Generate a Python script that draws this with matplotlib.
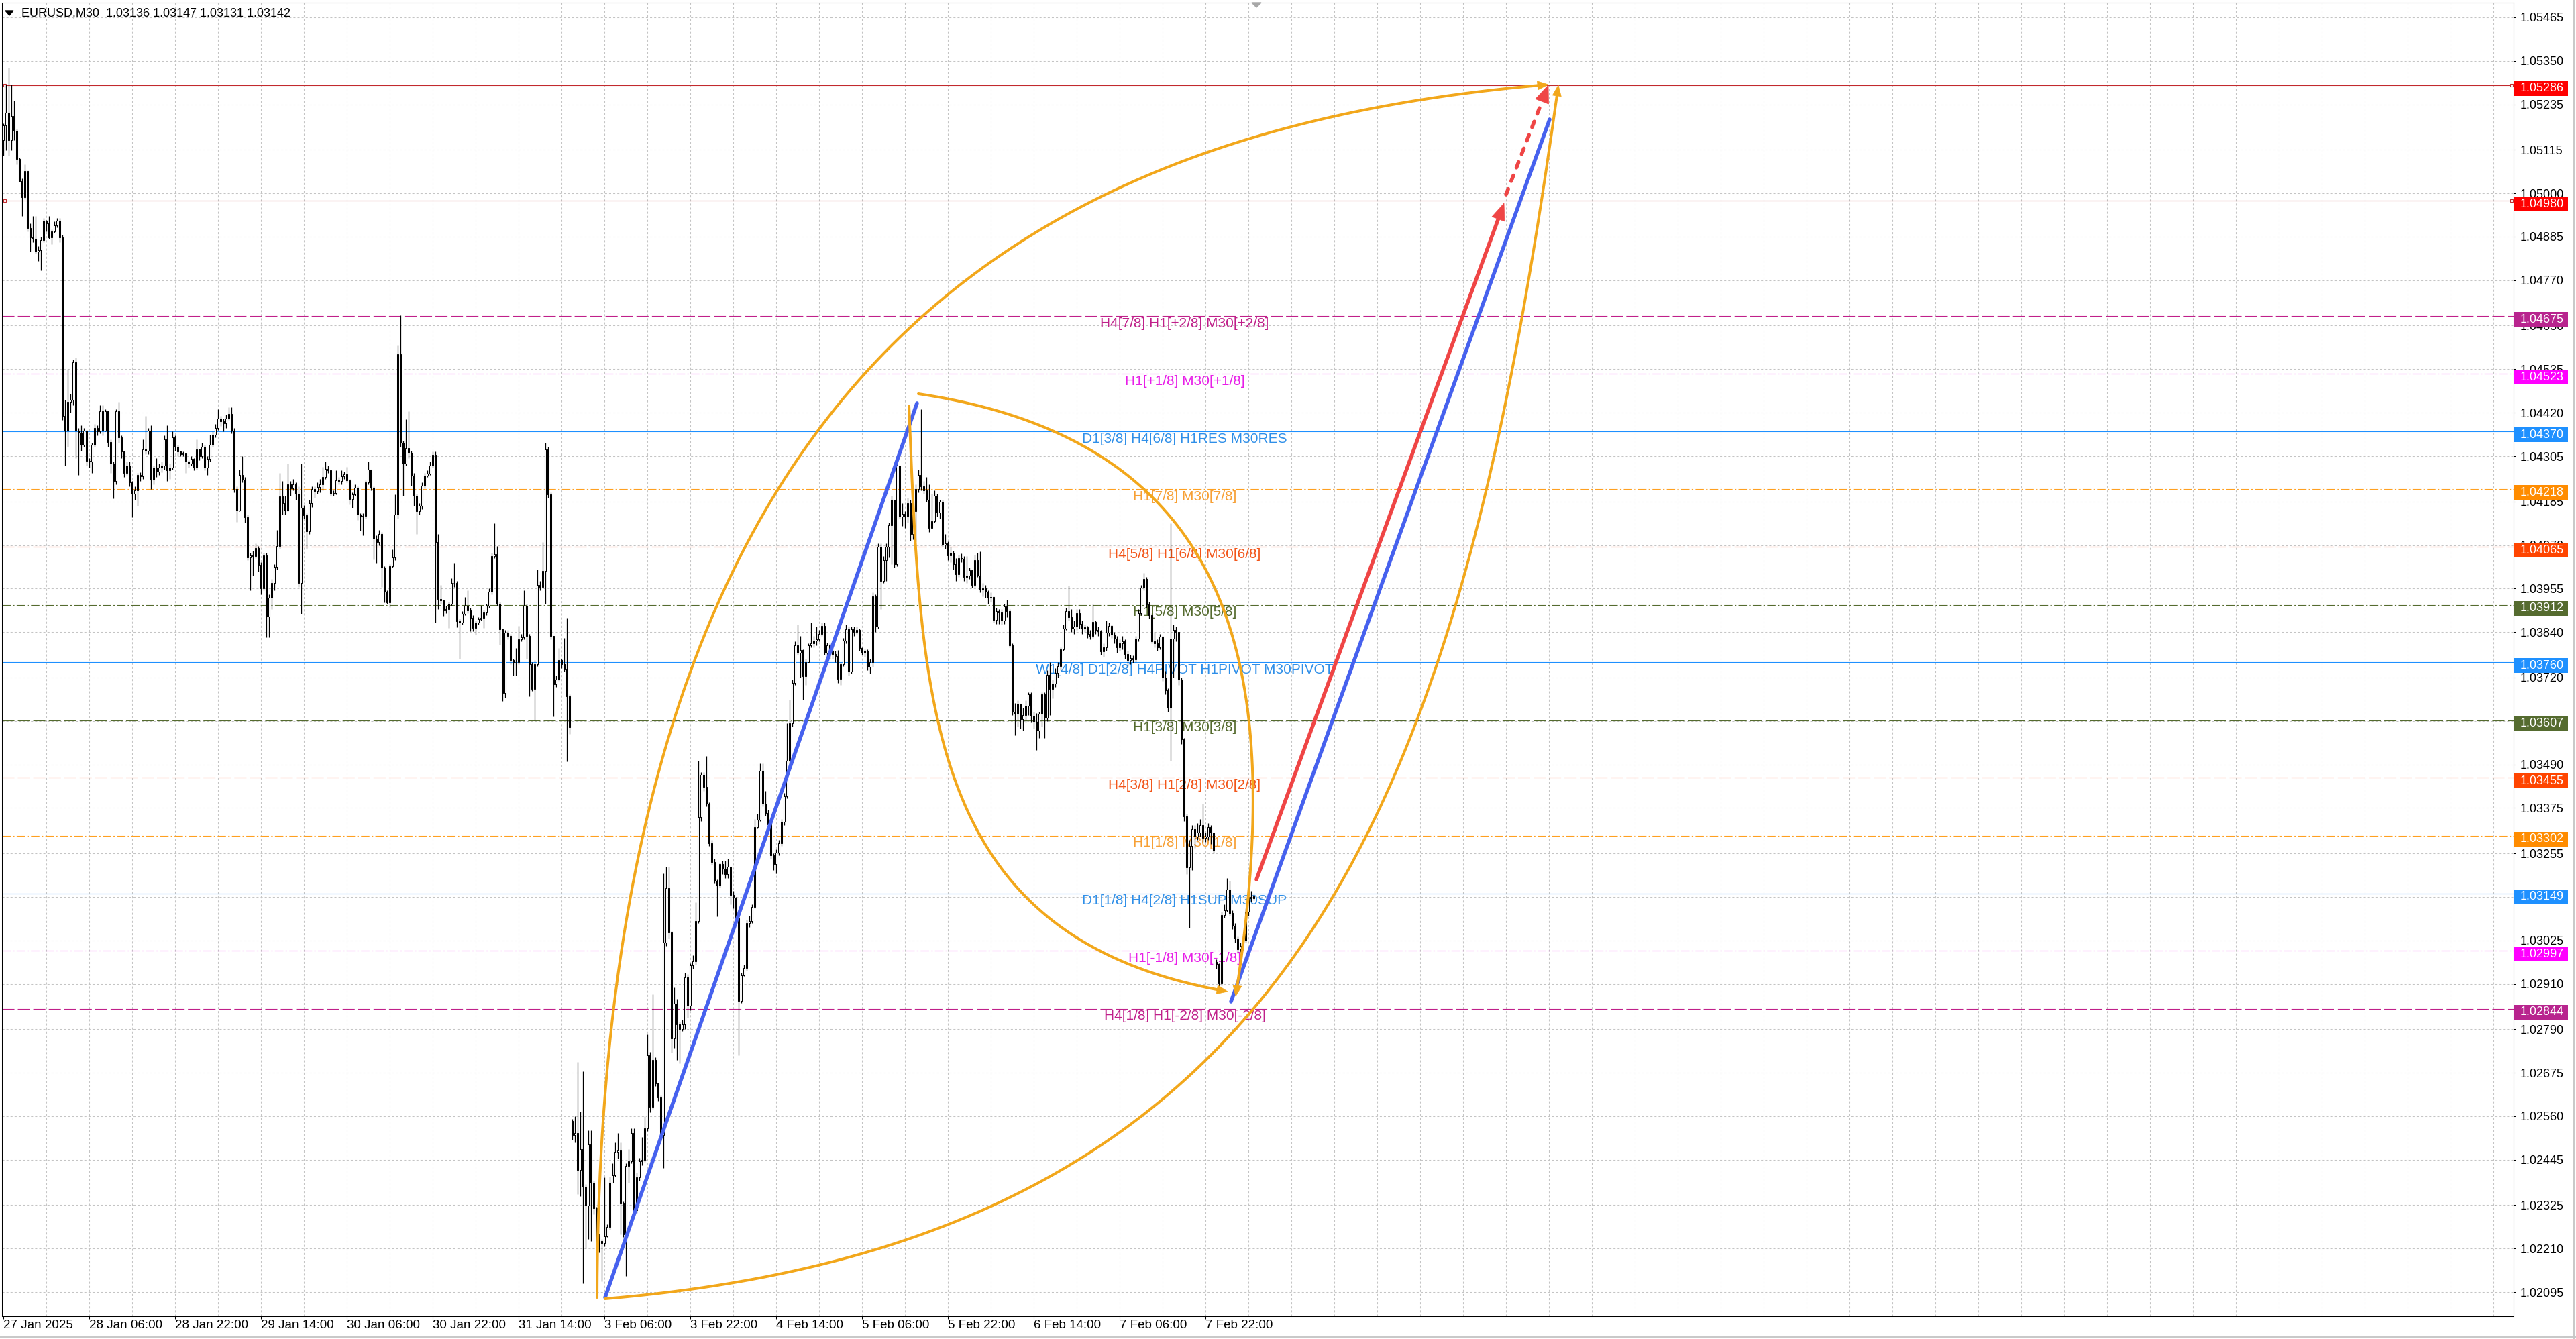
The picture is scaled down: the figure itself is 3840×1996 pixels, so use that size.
import numpy as np
import matplotlib
matplotlib.use('Agg')
import matplotlib.pyplot as plt
import matplotlib.transforms as mtransforms
from matplotlib.patches import Polygon, Rectangle
from matplotlib.lines import Line2D

plt.rcParams['font.family'] = ['Liberation Sans', 'DejaVu Sans']
plt.rcParams['lines.scale_dashes'] = False

# EURUSD M30 candles, prices in points (1e-5) above 1.00000
close_pts = [
    5180, 5213, 5140, 5205, 5165, 5090, 5033, 4990, 5058, 4908,
    4884, 4880, 4846, 4850, 4877, 4927, 4920, 4884, 4900, 4915,
    4927, 4884, 4411, 4373, 4448, 4454, 4554, 4373, 4367, 4336,
    4373, 4292, 4290, 4336, 4380, 4370, 4423, 4373, 4423, 4342,
    4286, 4240, 4423, 4355, 4317, 4261, 4280, 4236, 4205, 4215,
    4255, 4252, 4323, 4320, 4373, 4243, 4274, 4265, 4274, 4280,
    4349, 4267, 4274, 4355, 4330, 4317, 4311, 4312, 4290, 4286,
    4298, 4274, 4323, 4305, 4330, 4274, 4298, 4336, 4361, 4380,
    4405, 4398, 4392, 4405, 4417, 4373, 4218, 4162, 4255, 4243,
    4143, 4037, 4043, 4040, 4062, 4018, 3956, 4043, 3882, 3931,
    3969, 4012, 4068, 4199, 4180, 4162, 4230, 4220, 4230, 4205,
    3969, 4168, 4149, 4106, 4180, 4218, 4212, 4224, 4230, 4250,
    4272, 4268, 4206, 4208, 4242, 4240, 4251, 4257, 4241, 4191,
    4204, 4222, 4150, 4145, 4148, 4236, 4269, 4222, 4087, 4078,
    4100, 4010, 3946, 3919, 4014, 4037, 4150, 4575, 4340, 4286,
    4326, 4313, 4254, 4200, 4159, 4173, 4227, 4254, 4259, 4281,
    4308, 4078, 3928, 3924, 3897, 3901, 3915, 3969, 3970, 3869,
    3865, 3888, 3910, 3897, 3878, 3851, 3865, 3874, 3878, 3892,
    3910, 3946, 4041, 4046, 3915, 3847, 3679, 3838, 3830, 3765,
    3761, 3760, 3820, 3826, 3910, 3829, 3756, 3689, 3756, 3964,
    3960, 4001, 4322, 4204, 3829, 3702, 3715, 3765, 3756, 3743,
    3670, 3589, 2510, 2516, 2417, 2473, 2373, 2323, 2485, 2385,
    2317, 2242, 2230, 2225, 2242, 2267, 2385, 2404, 2466, 2470,
    2329, 2248, 2429, 2441, 2516, 2311, 2398, 2441, 2445, 2528,
    2721, 2584, 2709, 2647, 2609, 2510, 3020, 3163, 3045, 2765,
    2858, 2802, 2790, 2802, 2927, 2852, 2958, 2970, 3076, 3350,
    3462, 3431, 3387, 3282, 3232, 3182, 3170, 3226, 3215, 3200,
    3220, 3145, 3138, 3083, 2865, 2933, 2952, 3070, 3076, 3114,
    3325, 3344, 3474, 3387, 3362, 3331, 3250, 3226, 3257, 3282,
    3338, 3406, 3499, 3599, 3705, 3804, 3786, 3792, 3723, 3760,
    3804, 3811, 3817, 3820, 3835, 3857, 3786, 3804, 3790, 3782,
    3777, 3717, 3755, 3817, 3848, 3736, 3848, 3840, 3845, 3798,
    3786, 3790, 3748, 3760, 3935, 3855, 4065, 3975, 4030, 4065,
    4122, 4190, 4020, 4280, 4145, 4152, 4145, 4180, 4100, 4160,
    4218, 4255, 4225, 4215, 4190, 4116, 4133, 4200, 4156, 4184,
    4071, 4075, 4043, 4050, 4020, 3992, 4035, 4033, 3986, 3990,
    4003, 3965, 4030, 3990, 3952, 3955, 3947, 3930, 3932, 3873,
    3896, 3892, 3870, 3907, 3896, 3805, 3630, 3624, 3650, 3610,
    3620, 3645, 3675, 3619, 3602, 3580, 3624, 3675, 3613, 3726,
    3690, 3703, 3732, 3749, 3794, 3850, 3896, 3880, 3850, 3855,
    3890, 3862, 3850, 3853, 3835, 3830, 3867, 3845, 3842, 3788,
    3800, 3839, 3856, 3833, 3822, 3799, 3811, 3815, 3782, 3765,
    3771, 3768, 3822, 3890, 3958, 3980, 3913, 3884, 3816, 3811,
    3800, 3828, 3720, 3686, 3640, 3822, 3845, 3840, 3715, 3556,
    3353, 3217, 3274, 3319, 3300, 3310, 3330, 3296, 3300, 3324,
    3310, 3262, 2962, 2911, 3092, 3104, 3160, 3098, 3064, 3030,
    3002, 3010, 3025, 3100, 3140, 3136, 3142,
]
high_pts = [
    5185, 5288, 5332, 5288, 5245, 5170, 5095, 5040, 5076, 5060,
    4920, 4940, 4940, 4860, 4885, 4935, 4930, 4940, 4905, 4925,
    4935, 4935, 4890, 4454, 4535, 4470, 4560, 4566, 4380, 4386,
    4380, 4375, 4300, 4340, 4390, 4386, 4440, 4440, 4430, 4425,
    4350, 4290, 4430, 4448, 4360, 4320, 4290, 4290, 4240, 4225,
    4260, 4262, 4349, 4411, 4380, 4386, 4280, 4300, 4285, 4290,
    4360, 4386, 4285, 4370, 4360, 4335, 4320, 4318, 4295, 4295,
    4305, 4300, 4349, 4325, 4340, 4335, 4305, 4361, 4370, 4390,
    4430, 4412, 4405, 4415, 4435, 4435, 4380, 4225, 4270, 4305,
    4250, 4150, 4050, 4055, 4075, 4068, 4025, 4050, 4050, 3940,
    3980, 4020, 4110, 4261, 4240, 4200, 4286, 4240, 4245, 4235,
    4225, 4286, 4175, 4155, 4190, 4225, 4225, 4235, 4245, 4277,
    4290, 4280, 4270, 4215, 4268, 4250, 4268, 4265, 4277, 4245,
    4210, 4230, 4225, 4155, 4155, 4241, 4290, 4270, 4225, 4095,
    4110, 4105, 4015, 3950, 4020, 4059, 4204, 4598, 4678, 4345,
    4403, 4423, 4320, 4260, 4205, 4180, 4235, 4260, 4268, 4290,
    4318, 4318, 4100, 3964, 3920, 3910, 3920, 3983, 4023, 3975,
    3875, 3895, 3933, 3951, 3905, 3885, 3870, 3880, 3910, 3898,
    3915, 3955, 4050, 4127, 4068, 3920, 3850, 3845, 3845, 3835,
    3770, 3797, 3856, 3835, 3951, 3915, 3835, 3760, 3765, 4005,
    3975, 4078, 4340, 4330, 4210, 3825, 3725, 3797, 3770, 3824,
    3878, 3675, 2553, 2560, 2703, 2572, 2678, 2380, 2522, 2522,
    2390, 2320, 2250, 2235, 2398, 2275, 2400, 2435, 2491, 2516,
    2491, 2335, 2435, 2473, 2528, 2528, 2410, 2450, 2504, 2560,
    2777, 2730, 2883, 2715, 2645, 2615, 3201, 3219, 3219, 3050,
    2900, 2870, 2810, 2815, 2940, 2935, 2965, 2985, 3126, 3499,
    3470, 3470, 3512, 3390, 3290, 3240, 3185, 3230, 3235, 3235,
    3240, 3200, 3155, 3140, 3070, 2940, 2960, 3080, 3090, 3120,
    3345, 3360, 3493, 3493, 3420, 3370, 3320, 3255, 3265, 3290,
    3345, 3415, 3599, 3661, 3715, 3815, 3860, 3830, 3795, 3770,
    3810, 3866, 3830, 3854, 3845, 3866, 3866, 3812, 3810, 3795,
    3790, 3792, 3760, 3825, 3860, 3855, 3855, 3855, 3855, 3850,
    3800, 3795, 3795, 3770, 3945, 3940, 4075, 4075, 4040, 4075,
    4130, 4200, 4190, 4290, 4260, 4180, 4160, 4195, 4190, 4175,
    4230, 4270, 4430, 4240, 4250, 4230, 4205, 4215, 4205, 4190,
    4190, 4100, 4080, 4065, 4055, 4035, 4045, 4048, 4040, 4040,
    4010, 4000, 4045, 4050, 4054, 3970, 3965, 3950, 3945, 3935,
    3905, 3900, 3900, 3915, 3925, 3900, 3810, 3652, 3660, 3650,
    3640, 3660, 3680, 3680, 3630, 3625, 3630, 3680, 3680, 3740,
    3760, 3715, 3745, 3760, 3800, 3860, 3905, 3963, 3900, 3870,
    3900, 3900, 3870, 3860, 3856, 3845, 3913, 3870, 3855, 3845,
    3810, 3870, 3865, 3860, 3840, 3830, 3820, 3830, 3820, 3790,
    3780, 3778, 3830, 3900, 3965, 3997, 3985, 3920, 3890, 3840,
    3820, 3835, 3830, 3737, 3692, 4127, 3860, 3855, 3840, 3720,
    3560, 3360, 3290, 3330, 3330, 3335, 3345, 3387, 3310, 3335,
    3330, 3300, 2975, 2965, 3100, 3120, 3189, 3183, 3105, 3070,
    3035, 3020, 3035, 3110, 3150, 3155, 3147,
]
low_pts = [
    5100, 5114, 5100, 5114, 5140, 5076, 5030, 4940, 4985, 4900,
    4846, 4870, 4840, 4821, 4796, 4870, 4900, 4880, 4865, 4895,
    4910, 4870, 4400, 4280, 4330, 4420, 4440, 4300, 4255, 4320,
    4330, 4280, 4275, 4261, 4330, 4360, 4365, 4360, 4370, 4330,
    4260, 4193, 4230, 4340, 4300, 4250, 4255, 4225, 4143, 4190,
    4174, 4240, 4245, 4310, 4310, 4218, 4230, 4250, 4255, 4262,
    4270, 4240, 4245, 4270, 4320, 4305, 4305, 4305, 4261, 4275,
    4280, 4268, 4270, 4295, 4300, 4268, 4255, 4290, 4330, 4355,
    4375, 4385, 4370, 4380, 4400, 4365, 4210, 4131, 4160, 4235,
    4130, 4030, 3950, 3990, 4035, 4000, 3940, 3950, 3826, 3826,
    3900, 3950, 4005, 4060, 4150, 4150, 4160, 4200, 4215, 4190,
    3960, 3888, 4140, 4060, 4100, 4170, 4195, 4205, 4210, 4215,
    4245, 4260, 4200, 4200, 4204, 4230, 4231, 4245, 4235, 4177,
    4168, 4200, 4136, 4109, 4096, 4140, 4230, 4215, 4032, 4023,
    4070, 3960, 3919, 3915, 3906, 4010, 4030, 4140, 4330, 4200,
    4280, 4300, 4227, 4173, 4100, 4150, 4165, 4220, 4250, 4255,
    4275, 3865, 3901, 3915, 3883, 3890, 3851, 3910, 3960, 3853,
    3770, 3860, 3885, 3890, 3842, 3842, 3833, 3860, 3870, 3851,
    3885, 3905, 3940, 4035, 3910, 3806, 3657, 3666, 3820, 3756,
    3725, 3725, 3755, 3815, 3820, 3770, 3670, 3684, 3607, 3750,
    3950, 3955, 3915, 4195, 3820, 3616, 3695, 3710, 3745, 3735,
    3498, 3571, 2497, 2490, 2354, 2348, 2118, 2211, 2236, 2230,
    2300, 2211, 2200, 2124, 2215, 2240, 2260, 2385, 2400, 2448,
    2248, 2240, 2137, 2385, 2435, 2300, 2305, 2390, 2430, 2440,
    2520, 2570, 2580, 2640, 2600, 2495, 2423, 3010, 3030, 2728,
    2740, 2709, 2700, 2785, 2790, 2821, 2840, 2950, 2960, 3070,
    3340, 3420, 3380, 3275, 3225, 3175, 3089, 3165, 3200, 3190,
    3190, 3120, 3110, 3075, 2721, 2860, 2930, 2945, 3060, 3070,
    3110, 3320, 3340, 3380, 3355, 3320, 3240, 3210, 3201, 3250,
    3275, 3330, 3400, 3490, 3590, 3700, 3780, 3720, 3661, 3700,
    3760, 3800, 3800, 3805, 3815, 3830, 3780, 3780, 3770, 3770,
    3760, 3705, 3700, 3750, 3810, 3725, 3730, 3830, 3835, 3790,
    3780, 3775, 3740, 3730, 3748, 3840, 3850, 3901, 3970, 3975,
    4037, 4020, 4010, 4015, 4140, 4120, 4116, 4130, 4082, 4085,
    4080, 4210, 4215, 4205, 4185, 4105, 4120, 4130, 4145, 4140,
    4065, 4060, 4030, 4025, 4005, 3975, 3985, 4025, 3975, 3970,
    3980, 3958, 3960, 3985, 3945, 3935, 3930, 3915, 3920, 3865,
    3862, 3862, 3860, 3862, 3880, 3800, 3620, 3568, 3590, 3585,
    3580, 3600, 3620, 3600, 3585, 3528, 3560, 3590, 3560, 3605,
    3620, 3665, 3695, 3720, 3740, 3790, 3845, 3870, 3840, 3835,
    3845, 3850, 3835, 3840, 3825, 3820, 3825, 3835, 3830, 3780,
    3775, 3790, 3830, 3825, 3810, 3785, 3790, 3795, 3770, 3750,
    3755, 3758, 3760, 3815, 3885, 3950, 3905, 3875, 3810, 3800,
    3790, 3795, 3710, 3675, 3630, 3500, 3720, 3815, 3700, 3545,
    3340, 3200, 3058, 3210, 3270, 3290, 3300, 3285, 3285, 3290,
    3280, 3255, 2950, 2894, 2905, 3085, 3100, 3090, 3055, 3020,
    2990, 2995, 3000, 3020, 3090, 3128, 3131,
]
first_open_pts = 5140
gap_bars = [212, 452]          # first bars after the weekends
gap_open_pts = [2547, 2968]

time_labels = ['27 Jan 2025', '28 Jan 06:00', '28 Jan 22:00', '29 Jan 14:00',
               '30 Jan 06:00', '30 Jan 22:00', '31 Jan 14:00', '3 Feb 06:00',
               '3 Feb 22:00', '4 Feb 14:00', '5 Feb 06:00', '5 Feb 22:00',
               '6 Feb 14:00', '7 Feb 06:00', '7 Feb 22:00']
bars_per_label = 32

price_ticks = [1.05465, 1.05350, 1.05235, 1.05115, 1.05000, 1.04885, 1.04770,
               1.04650, 1.04535, 1.04420, 1.04305, 1.04185, 1.04070, 1.03955,
               1.03840, 1.03720, 1.03605, 1.03490, 1.03375, 1.03255, 1.03140,
               1.03025, 1.02910, 1.02790, 1.02675, 1.02560, 1.02445, 1.02325,
               1.02210, 1.02095]

level_prices = [1.05286, 1.04980, 1.04675, 1.04523, 1.04370, 1.04218, 1.04065,
                1.03912, 1.03760, 1.03607, 1.03455, 1.03302, 1.03149, 1.02997,
                1.02844]
level_texts = ['', '', 'H4[7/8] H1[+2/8] M30[+2/8]', 'H1[+1/8] M30[+1/8]',
               'D1[3/8] H4[6/8] H1RES M30RES', 'H1[7/8] M30[7/8]',
               'H4[5/8] H1[6/8] M30[6/8]', 'H1[5/8] M30[5/8]',
               'W1[4/8] D1[2/8] H4PIVOT H1PIVOT M30PIVOT', 'H1[3/8] M30[3/8]',
               'H4[3/8] H1[2/8] M30[2/8]', 'H1[1/8] M30[1/8]',
               'D1[1/8] H4[2/8] H1SUP M30SUP', 'H1[-1/8] M30[-1/8]',
               'H4[1/8] H1[-2/8] M30[-2/8]']
level_kinds = ['red', 'red', 'violet', 'magenta', 'blue', 'orange', 'orangered',
               'olive_dd', 'blue', 'olive', 'orangered', 'orange', 'blue',
               'magenta', 'violet']

# drawn objects: (bar, price) anchors
arc_outer_upper = [(221.25, 1.020808), (222.25, 1.044256), (366.0, 1.051635), (575.75, 1.052876)]
arc_outer_lower = [(224.25, 1.020773), (486.75, 1.022334), (543.25, 1.034235), (579.5, 1.052859)]
arc_inner_upper = [(341.0, 1.044700), (461.0, 1.043423), (478.0, 1.037286), (459.25, 1.028772)]
arc_inner_lower = [(337.5, 1.044380), (342.0, 1.036399), (343.75, 1.030280), (456.25, 1.028896)]
blue_up_1 = [(224.25, 1.020808), (340.5, 1.044452)]
blue_up_2 = [(457.5, 1.028630), (576.25, 1.051954)]
red_arrow = [(467.0, 1.031858), (559.25, 1.049737)]
red_dashed = [(560.0, 1.049967), (575.75, 1.052859)]

# ---- styles ----
styles = {
    'red':       ('#C22A2E', None,      '#FF0000', '-'),
    'violet':    ('#C0208A', '#C0208A', '#B8248E', (0, (13, 3.6))),
    'magenta':   ('#F010F0', '#E81FE8', '#FF00FF', (0, (9, 2.4, 1.6, 2.4))),
    'blue':      ('#1E90FF', '#2F8FE8', '#1E90FF', '-'),
    'orange':    ('#FFA020', '#F7A035', '#FF8C00', (0, (9, 2.4, 1.6, 2.4))),
    'orangered': ('#FF4500', '#F2561A', '#FF4500', (0, (13, 3.6))),
    'olive_dd':  ('#556B2F', '#556B2F', '#556B2F', (0, (9, 2.4, 1.6, 2.4))),
    'olive':     ('#556B2F', '#556B2F', '#556B2F', (0, (13, 3.6))),
}
ORANGE = '#F2A71B'
BLUE = '#4661EE'
RED = '#EF4545'

W, H, DPI = 3840, 1996, 100
fig = plt.figure(figsize=(W / DPI, H / DPI), dpi=DPI)
fig.patch.set_facecolor('white')
ax = fig.add_axes([3 / W, (H - 1962) / H, 3744 / W, 1958 / H])
ax.set_facecolor('white')
ax.set_xlim(-0.5, 935.5)
ax.set_ylim(1.020312, 1.055040)

px_y = (1.055040 - 1.020312) / 1958.0   # price per pixel

# grid
for p in price_ticks:
    ax.axhline(p, color='#C4C4C4', lw=0.75, ls=(0, (2.2, 2.2)), zorder=1)
for b in range(16, 936, 16):
    ax.axvline(b, color='#C4C4C4', lw=0.75, ls=(0, (2.2, 2.2)), zorder=1)

# levels
bt = mtransforms.blended_transform_factory(ax.transAxes, ax.transData)
for p, txt, kind in zip(level_prices, level_texts, level_kinds):
    lc, tc, bc, ls = styles[kind]
    ax.axhline(p, color=lc, lw=0.8, ls=ls, zorder=2)
    if txt:
        ax.text(440.25, p - 1.5 * px_y, txt, ha='center', va='top', fontsize=15,
                color=tc, zorder=3)
    ax.add_patch(Rectangle((1.00027, p - 16 * px_y), 80 / 3744, 22 * px_y,
                           transform=bt, facecolor=bc, edgecolor='none',
                           clip_on=False, zorder=6))
    ax.text(1.00267, p - 5 * px_y, f'{p:.5f}', transform=bt, color='white',
            fontsize=13, ha='left', va='center', clip_on=False, zorder=7)
    if kind == 'red':
        ax.plot([0.5, 934.75], [p, p], ls='none', marker='s', ms=3, mfc='white',
                mec=lc, mew=0.8, zorder=3, clip_on=False)

# candles
c = np.array(close_pts) / 1e5 + 1.0
h = np.array(high_pts) / 1e5 + 1.0
l = np.array(low_pts) / 1e5 + 1.0
o = np.empty_like(c)
o[0] = first_open_pts / 1e5 + 1.0
o[1:] = c[:-1]
for b, gp in zip(gap_bars, gap_open_pts):
    o[b] = gp / 1e5 + 1.0
x = np.arange(len(c))
hi = np.maximum(h, np.maximum(o, c))
lo = np.minimum(l, np.minimum(o, c))
ax.vlines(x, lo, hi, color='black', lw=0.9, zorder=4)
up = c >= o
ax.bar(x, np.abs(c - o), bottom=np.minimum(o, c), width=0.55,
       color=np.where(up, 'white', 'black'), edgecolor='black', linewidth=0.75, zorder=5)


def bezier(ctrl, t):
    p = np.asarray(ctrl, dtype=float)
    t = t[:, None]
    return ((1 - t) ** 3) * p[0] + 3 * ((1 - t) ** 2) * t * p[1] \
        + 3 * (1 - t) * t ** 2 * p[2] + t ** 3 * p[3]


def head(pts, color, length, width, z):
    # arrow head at the end of a polyline given in data coords; returns base point
    pix = ax.transData.transform(np.asarray(pts))
    tip = pix[-1]
    dist = np.hypot(*(pix - tip).T)
    far = np.where(dist >= length)[0]
    ref = pix[far[-1]] if len(far) else pix[0]
    d = (tip - ref) / np.hypot(*(tip - ref))
    n = np.array([-d[1], d[0]])
    base = tip - d * length
    tri = [tip, base + n * width / 2, base - n * width / 2]
    tri = ax.transData.inverted().transform(tri)
    ax.add_patch(Polygon(tri, closed=True, facecolor=color, edgecolor=color,
                         lw=0.5, zorder=z))
    keep = np.asarray(pts)[dist >= length]
    return keep, ax.transData.inverted().transform(base)


# blue trend lines
for seg in (blue_up_1, blue_up_2):
    xs, ys = zip(*seg)
    ax.plot(xs, ys, color=BLUE, lw=4.0, solid_capstyle='round', zorder=7)

# red arrows
keep, base = head(red_arrow, RED, 25, 20, 8)
ax.plot([red_arrow[0][0], base[0]], [red_arrow[0][1], base[1]], color=RED, lw=4.0,
        solid_capstyle='round', zorder=8)
keep, base = head(red_dashed, RED, 26, 21, 8)
ax.plot([red_dashed[0][0], base[0]], [red_dashed[0][1], base[1]], color=RED, lw=4.0,
        ls=(0, (6.5, 9)), dash_capstyle='round', zorder=8)

# orange arcs
tt = np.linspace(0, 1, 500)
for ctrl in (arc_outer_upper, arc_outer_lower, arc_inner_upper, arc_inner_lower):
    pts = bezier(ctrl, tt)
    keep, base = head(pts, ORANGE, 16, 13, 9)
    shaft = np.vstack([keep, base])
    ax.plot(shaft[:, 0], shaft[:, 1], color=ORANGE, lw=2.9, solid_capstyle='round',
            zorder=9)

# axes, ticks
for s in ax.spines.values():
    s.set_color('black')
    s.set_linewidth(0.75)
ax.yaxis.tick_right()
ax.set_yticks(price_ticks)
ax.set_yticklabels([f'{p:.5f}' for p in price_ticks])
ax.tick_params(axis='y', direction='out', length=2.2, width=0.75, pad=5,
               labelsize=13, colors='black')
ax.set_xticks(np.arange(len(time_labels)) * bars_per_label)
ax.set_xticklabels(time_labels, ha='left')
ax.tick_params(axis='x', direction='out', length=2.9, width=0.75, pad=1,
               labelsize=13.5, colors='black')

# title and small chart marks
fig.text(32 / W, 1 - 20 / H, 'EURUSD,M30  1.03136 1.03147 1.03131 1.03142',
         fontsize=13, ha='left', va='center', color='black', zorder=10)
fig.add_artist(Polygon([[8 / W, 1 - 16 / H], [20 / W, 1 - 16 / H], [14 / W, 1 - 23 / H]],
                       closed=True, color='black', transform=fig.transFigure))
fig.add_artist(Polygon([[1866 / W, 1 - 4 / H], [1880 / W, 1 - 4 / H], [1873 / W, 1 - 11 / H]],
                       closed=True, color='#A8A8A8', transform=fig.transFigure))
fig.add_artist(Line2D([3837 / W, 3837 / W], [0, 1], color='#C8C8C8', lw=1.4,
                      transform=fig.transFigure))
fig.add_artist(Line2D([0, 1], [3 / H, 3 / H], color='#C8C8C8', lw=1.4,
                      transform=fig.transFigure))

fig.savefig('out.png', dpi=DPI, facecolor='white')
